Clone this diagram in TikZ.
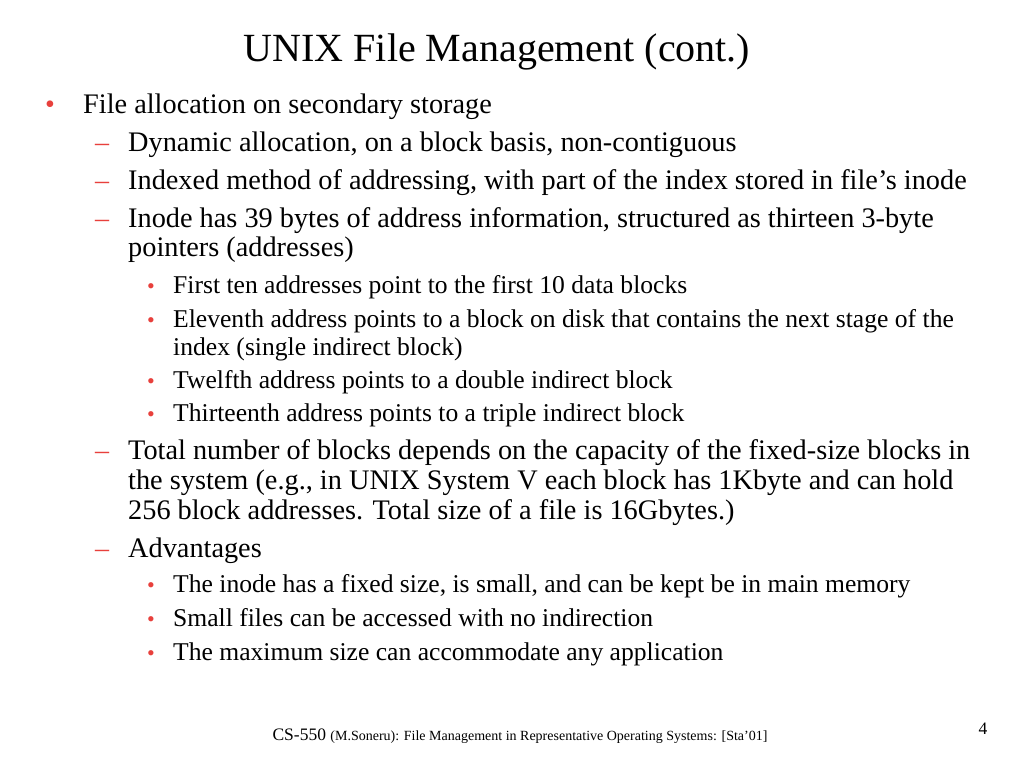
\documentclass[tikz,border=0pt]{standalone}
\usepackage{fontspec}
\setmainfont{Liberation Serif}
\definecolor{bul}{HTML}{E8403C}
\begin{document}
\begin{tikzpicture}[x=1pt,y=-1pt,
  t1/.style={anchor=base west,inner sep=0pt,font=\fontsize{28.3}{32}\selectfont},
  t3/.style={anchor=base west,inner sep=0pt,font=\fontsize{25.6}{29}\selectfont},
  b1/.style={anchor=base west,inner sep=0pt,text=bul,font=\fontsize{28}{32}\selectfont},
  b3/.style={anchor=base west,inner sep=0pt,text=bul,font=\fontsize{22}{26}\selectfont}]
\path[use as bounding box,fill=white] (0,0) rectangle (1024,768);
\node[anchor=base,inner sep=0pt,font=\fontsize{40}{44}\selectfont] (title) at (497,61) {UNIX File Management (cont.)};
\node[b1] (d0) at (45,113) {•};
\node[t1] (l0) at (83,113) {File allocation on secondary storage};
\node[b1] (d1) at (95,151) {–};
\node[t1] (l1) at (128,151) {Dynamic allocation, on a block basis, non-contiguous};
\node[b1] (d2) at (95,189) {–};
\node[t1] (l2) at (128,189) {Indexed method of addressing, with part of the index stored in file’s inode};
\node[b1] (d3) at (95,227) {–};
\node[t1] (l3) at (128,227) {Inode has 39 bytes of address information, structured as thirteen 3-byte};
\node[t1] (l3b) at (128,256) {pointers (addresses)};
\node[b3] (e1) at (147,293) {•};
\node[t3] (m1) at (173,293) {First ten addresses point to the first 10 data blocks};
\node[b3] (e2) at (147,327) {•};
\node[t3] (m2) at (173,327) {Eleventh address points to a block on disk that contains the next stage of the};
\node[t3] (m2b) at (173,355) {index (single indirect block)};
\node[b3] (e3) at (147,388) {•};
\node[t3] (m3) at (173,388) {Twelfth address points to a double indirect block};
\node[b3] (e4) at (147,421) {•};
\node[t3] (m4) at (173,421) {Thirteenth address points to a triple indirect block};
\node[b1] (d4) at (95,459) {–};
\node[t1] (l4) at (128,459) {Total number of blocks depends on the capacity of the fixed-size blocks in};
\node[t1] (l4b) at (128,489) {the system (e.g., in UNIX System V each block has 1Kbyte and can hold};
\node[t1] (l4c) at (128,519) {256 block addresses. Total size of a file is 16Gbytes.)};
\node[b1] (d5) at (95,557) {–};
\node[t1] (l5) at (128,557) {Advantages};
\node[b3] (e5) at (147,592) {•};
\node[t3] (m5) at (173,592) {The inode has a fixed size, is small, and can be kept be in main memory};
\node[b3] (e6) at (147,626) {•};
\node[t3] (m6) at (173,626) {Small files can be accessed with no indirection};
\node[b3] (e7) at (147,660) {•};
\node[t3] (m7) at (173,660) {The maximum size can accommodate any application};
\node[anchor=base,inner sep=0pt] (foot) at (520,740) {\fontsize{17.5}{20}\selectfont CS-550 \fontsize{14}{16}\selectfont(M.Soneru): File Management in Representative Operating Systems: [Sta’01]};
\node[anchor=base,inner sep=0pt,font=\fontsize{17.5}{20}\selectfont] (pg) at (983,734) {4};
\end{tikzpicture}
\end{document}
